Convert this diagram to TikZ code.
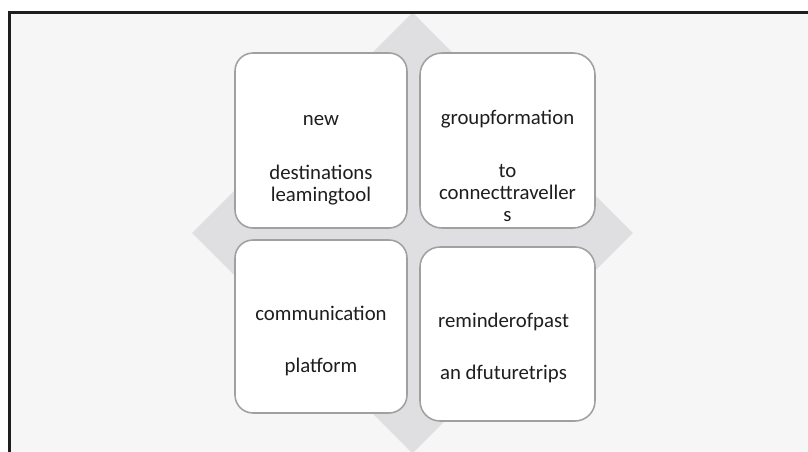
\documentclass[tikz,border=0pt]{standalone}
\usepackage{fontspec}
\setmainfont{Carlito}
\usepackage{tikz}
\usetikzlibrary{positioning}
\definecolor{framebg}{HTML}{F6F6F6}
\definecolor{diamondgray}{HTML}{DFDFE1}
\definecolor{boxline}{HTML}{A0A0A0}
\definecolor{ink}{HTML}{1E1E1E}

\tikzset{
  card/.style={draw=boxline, line width=1.1pt, fill=white, inner sep=0pt,
    rectangle, rounded corners=0.45cm,
    minimum width=4.3cm, minimum height=4.375cm},
  cardtext/.style={align=center, inner sep=0pt, text=ink,
    font=\fontsize{14.8pt}{15.5pt}\selectfont}
}

\begin{document}
\begin{tikzpicture}
  \useasboundingbox (0,0) rectangle (20.2,11.275);
  \clip (0,0) rectangle (20.2,11.275);

  % Frame and background
  \fill[framebg] (0.2375,-1) rectangle (21,10.9625);

  % Diamond behind the cards
  \fill[diamondgray] (10.3125,10.9625) -- (15.8225,5.45) -- (10.3125,-0.06) -- (4.8025,5.45) -- cycle;

  \draw[ink, line width=2.1pt] (0.2375,-1) -- (0.2375,10.9625) -- (21,10.9625);

  % Cards
  \node[card] (tl) at (8.025,7.7625) {};
  \node[card, minimum width=4.375cm, rounded corners=0.55cm] (tr) at (12.6875,7.7625) {};
  \node[card, minimum height=4.325cm] (bl) at (8.025,3.1125) {};
  \node[card, minimum width=4.375cm, minimum height=4.35cm, rounded corners=0.5cm] (br) at (12.6875,2.925) {};

  % Labels
  \node[cardtext, below=1.45cm of tl.north] (tltext) {\strut new\\[23pt]destinations\\leamingtool};
  \node[cardtext, below=1.425cm of tr.north] (trtext) {\strut groupformation\\[22pt]to\\connecttraveller\\s};
  \node[cardtext, below=1.65cm of bl.north] (bltext) {\strut communication\\[21pt]platform};
  \node[cardtext, below=1.65cm of br.north, xshift=-0.1cm] (brtext) {\strut reminderofpast\\[21pt]an dfuturetrips};
\end{tikzpicture}
\end{document}
